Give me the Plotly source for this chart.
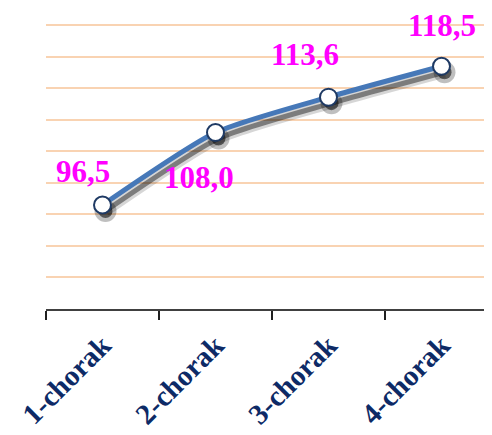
import plotly.graph_objects as go

categories = ["1-chorak", "2-chorak", "3-chorak", "4-chorak"]
values = [96.5, 108.0, 113.6, 118.5]
value_labels = ["96,5", "108,0", "113,6", "118,5"]

# page body has an 8px default margin: compensate so the plot lands where the reference has it
PAGE_OFF = 8
W, H = 492, 435
Y_MIN, Y_MAX, Y_STEP = 80, 125, 5
Y_TOP = 126  # a little headroom so the 125 gridline is drawn
AXIS_PX, TOP_GRID_PX, LEFT_PX = 309, 25, 46
ppu = (AXIS_PX - TOP_GRID_PX) / (Y_MAX - Y_MIN)
ML = LEFT_PX - PAGE_OFF
MR = 0
MT = TOP_GRID_PX - PAGE_OFF - (Y_TOP - Y_MAX) * ppu
MB = H - (AXIS_PX - PAGE_OFF)
PX_PER_CAT = 113
X_RANGE = [-0.5, -0.5 + (W - ML - MR) / PX_PER_CAT]
Y_RANGE = [Y_MIN, Y_TOP]

shadow_dx, shadow_dy = 3, 6

fig = go.Figure()

# soft shadow (two layers on overlay axes x2/y2, shifted by a few pixels)
for lw, lc, ms, mc in [(11, "rgba(0,0,0,0.16)", 22, "rgba(0,0,0,0.25)"),
                       (5, "rgba(0,0,0,0.42)", 14, "rgba(0,0,0,0.55)")]:
    fig.add_trace(go.Scatter(
        x=categories, y=values, xaxis="x2", yaxis="y2", mode="lines+markers",
        line=dict(color=lc, width=lw, shape="spline", smoothing=0.6),
        marker=dict(size=ms, color=mc, line=dict(width=0)),
        hoverinfo="skip", showlegend=False,
    ))

# main line (on overlay axes x3/y3)
fig.add_trace(go.Scatter(
    x=categories, y=values, xaxis="x3", yaxis="y3", mode="lines+markers",
    line=dict(color="#4678B8", width=5, shape="spline", smoothing=0.6),
    marker=dict(size=17, color="white", line=dict(color="#1F3A64", width=2)),
    showlegend=False,
))

# invisible trace to anchor main axes
fig.add_trace(go.Scatter(x=categories, y=values, mode="markers",
                         marker=dict(opacity=0), hoverinfo="skip", showlegend=False))

offsets = [(-20, 33), (-17, -45), (-24, 43), (0, 41)]
for c, v, t, (dx, dy) in zip(categories, values, value_labels, offsets):
    fig.add_annotation(x=c, y=v, xref="x", yref="y", text=t, showarrow=False,
                       xshift=dx, yshift=dy,
                       font=dict(family="Liberation Serif", size=31, color="#FF00FF", weight="bold"))

common_x = dict(type="category", categoryorder="array", categoryarray=categories)
fig.update_layout(
    width=W, height=H,
    margin=dict(l=ML, r=MR, t=MT, b=MB, autoexpand=False),
    paper_bgcolor="white", plot_bgcolor="white",
    xaxis=dict(**common_x, range=X_RANGE, showgrid=False, zeroline=False, automargin=False,
               showline=True, linecolor="#404040", linewidth=1.5,
               ticks="outside", tickson="boundaries", ticklen=9, tickwidth=1.5, tickcolor="#202020",
               tickangle=-45, ticklabelstandoff=6,
               tickfont=dict(family="Liberation Serif", size=29, color="#0D2A66", weight="bold")),
    yaxis=dict(range=Y_RANGE, tickvals=list(range(Y_MIN, Y_MAX + 1, Y_STEP)),
               showgrid=True, automargin=False,
               gridcolor="#F9D3B2", gridwidth=2, zeroline=False, showline=False,
               showticklabels=False, ticks=""),
    xaxis2=dict(**common_x, overlaying="x", visible=False,
                range=[X_RANGE[0] - shadow_dx / PX_PER_CAT, X_RANGE[1] - shadow_dx / PX_PER_CAT]),
    yaxis2=dict(overlaying="y", visible=False,
                range=[Y_RANGE[0] + shadow_dy / ppu, Y_RANGE[1] + shadow_dy / ppu]),
    xaxis3=dict(**common_x, overlaying="x", visible=False, range=X_RANGE),
    yaxis3=dict(overlaying="y", visible=False, range=Y_RANGE),
)

fig.write_html("out.html")
